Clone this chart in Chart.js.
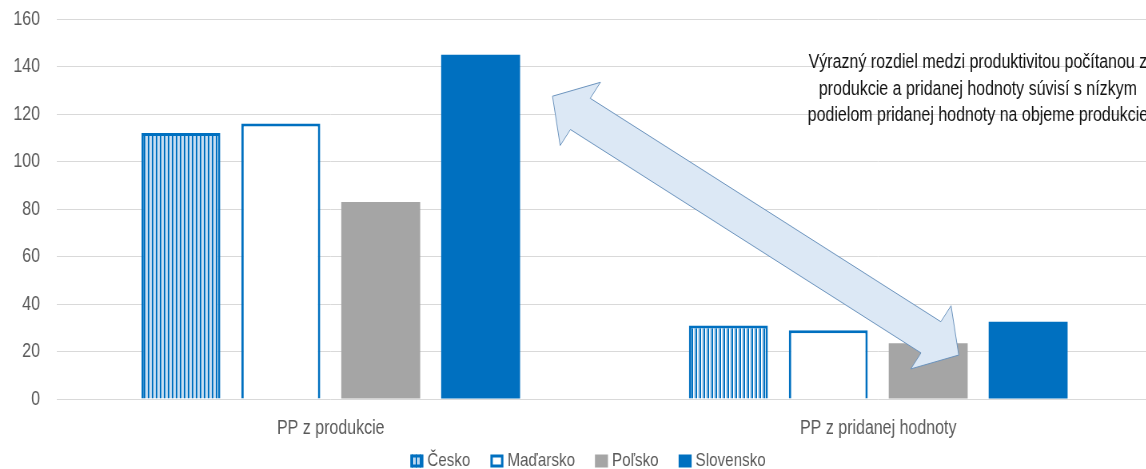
<!DOCTYPE html>
<html>
<head>
<meta charset="utf-8">
<script src="https://cdn.jsdelivr.net/npm/chart.js@4/dist/chart.umd.min.js"></script>
<style>
  html, body { margin: 0; padding: 0; background: #fff; overflow: hidden; }
  #wrap { width: 1146px; height: 469px; overflow: hidden; }
  /* canvas drawn wider and squeezed to 1152px: narrow lettering like the original, plot runs past the right edge */
  #chart { display: block; }
</style>
</head>
<body>
<div id="wrap"><canvas id="chart" width="1441" height="469" style="width:1152px;height:469px"></canvas></div>
<script>
// Data
const categories = ['PP z produkcie', 'PP z pridanej hodnoty'];
const cesko = [112, 31];
const madarsko = [116, 29];
const polsko = [83, 23.5];
const slovensko = [145, 32.5];
const yTicks = [0, 20, 40, 60, 80, 100, 120, 140, 160];

const noteLines = [
    'Výrazný rozdiel medzi produktivitou počítanou z',
    'produkcie a pridanej hodnoty súvisí s nízkym',
    'podielom pridanej hodnoty na objeme produkcie'
];

const SQ = 1152 / 1441; // horizontal squeeze
const FONT = "'Liberation Sans', Arial, sans-serif";
const BLUE = '#0070c0';
const GREY_TEXT = '#595959';

// striped fill for Česko
function stripePattern() {
    const c = document.createElement('canvas');
    c.width = 5;
    c.height = 4;
    const g = c.getContext('2d');
    g.fillStyle = BLUE;
    g.fillRect(0, 0, 2, 4);
    g.fillStyle = '#ffffff';
    g.fillRect(2, 0, 1, 4);
    g.fillStyle = '#b7d4ee';
    g.fillRect(3, 0, 2, 4);
    return g.createPattern(c, 'repeat');
}

// double arrow + note, anchored in data space
const arrowPlugin = {
    id: 'arrowNote',
    afterDatasetsDraw(chart) {
        const { ctx, scales: { x, y } } = chart;
        // work in displayed pixels so the arrow is not squeezed
        const p1 = { x: x.getPixelForValue(0.405) * SQ, y: y.getPixelForValue(127.5) };
        const p2 = { x: x.getPixelForValue(1.147) * SQ, y: y.getPixelForValue(18.5) };
        const dx = p2.x - p1.x, dy = p2.y - p1.y;
        const len = Math.hypot(dx, dy);
        const ux = dx / len, uy = dy / len;
        const nx = -uy, ny = ux;
        const shaft = 18.5, head = 37.5, headLen = 33;
        const pt = (base, along, side) => [(base.x + ux * along + nx * side) / SQ, base.y + uy * along + ny * side];
        const pts = [
            pt(p1, 0, 0),
            pt(p1, headLen, head),
            pt(p1, headLen, shaft),
            pt(p2, -headLen, shaft),
            pt(p2, -headLen, head),
            pt(p2, 0, 0),
            pt(p2, -headLen, -head),
            pt(p2, -headLen, -shaft),
            pt(p1, headLen, -shaft),
            pt(p1, headLen, -head)
        ];
        ctx.save();
        ctx.beginPath();
        pts.forEach((p, i) => i ? ctx.lineTo(p[0], p[1]) : ctx.moveTo(p[0], p[1]));
        ctx.closePath();
        ctx.fillStyle = '#dce8f5';
        ctx.fill();
        ctx.strokeStyle = '#6b93bd';
        ctx.lineWidth = 1;
        ctx.stroke();

        ctx.fillStyle = '#111';
        ctx.font = '20px ' + FONT;
        ctx.textAlign = 'center';
        ctx.textBaseline = 'middle';
        const tx = x.getPixelForValue(1.182);
        const ty = y.getPixelForValue(141.5);
        noteLines.forEach((line, i) => ctx.fillText(line, tx, ty + i * 26.5));
        ctx.restore();
    }
};

// legend under the axis, built from the datasets
const legendPlugin = {
    id: 'bottomLegend',
    afterDraw(chart) {
        const { ctx } = chart;
        const box = 13 / SQ, gapText = 4 / SQ, gapItem = 20 / SQ;
        ctx.save();
        ctx.font = '19px ' + FONT;
        ctx.textBaseline = 'middle';
        ctx.textAlign = 'left';
        const items = chart.data.datasets.map(ds => ({ ds, w: ctx.measureText(ds.label).width }));
        const total = items.reduce((s, it) => s + box + gapText + it.w, 0) + gapItem * (items.length - 1);
        let cx = 588 / SQ - total / 2;
        const cy = chart.height - 8;
        items.forEach(({ ds, w }) => {
            const bw = ds.borderWidth || 0;
            ctx.fillStyle = ds.backgroundColor;
            ctx.fillRect(cx, cy - 6.5, box, 13);
            if (bw) {
                ctx.strokeStyle = ds.borderColor;
                ctx.lineWidth = bw;
                ctx.strokeRect(cx + bw / 2, cy - 6.5 + bw / 2, box - bw, 13 - bw);
            }
            ctx.fillStyle = GREY_TEXT;
            ctx.fillText(ds.label, cx + box + gapText, cy);
            cx += box + gapText + w + gapItem;
        });
        ctx.restore();
    }
};

const ctx = document.getElementById('chart').getContext('2d');
new Chart(ctx, {
    type: 'bar',
    data: {
        labels: categories,
        datasets: [
            { label: 'Česko', data: cesko, backgroundColor: stripePattern(), borderColor: BLUE, borderWidth: 3 },
            { label: 'Maďarsko', data: madarsko, backgroundColor: '#ffffff', borderColor: BLUE, borderWidth: 3 },
            { label: 'Poľsko', data: polsko, backgroundColor: '#a5a5a5', borderWidth: 0 },
            { label: 'Slovensko', data: slovensko, backgroundColor: BLUE, borderWidth: 0 }
        ]
    },
    options: {
        responsive: false,
        animation: false,
        devicePixelRatio: 1,
        layout: { padding: { top: 19, right: 0, left: 0, bottom: 29 } },
        datasets: {
            bar: { categoryPercentage: 0.73, barPercentage: 0.79 }
        },
        plugins: {
            legend: { display: false },
            tooltip: { enabled: false }
        },
        scales: {
            x: {
                afterFit: s => { s.height = 41; },
                grid: { display: false, drawTicks: false },
                border: { display: false },
                ticks: { color: GREY_TEXT, padding: 17, font: { family: FONT, size: 20 } }
            },
            y: {
                min: 0,
                max: 160,
                afterBuildTicks: s => { s.ticks = yTicks.map(v => ({ value: v })); },
                afterFit: s => {
                    s.width = 57 / SQ;
                    s.paddingTop = 0;
                    s.paddingBottom = 0;
                },
                grid: { color: '#d9d9d9', drawTicks: false },
                border: { display: false },
                ticks: { color: GREY_TEXT, padding: 17 / SQ, font: { family: FONT, size: 20 } }
            }
        }
    },
    plugins: [arrowPlugin, legendPlugin]
});
</script>
</body>
</html>
